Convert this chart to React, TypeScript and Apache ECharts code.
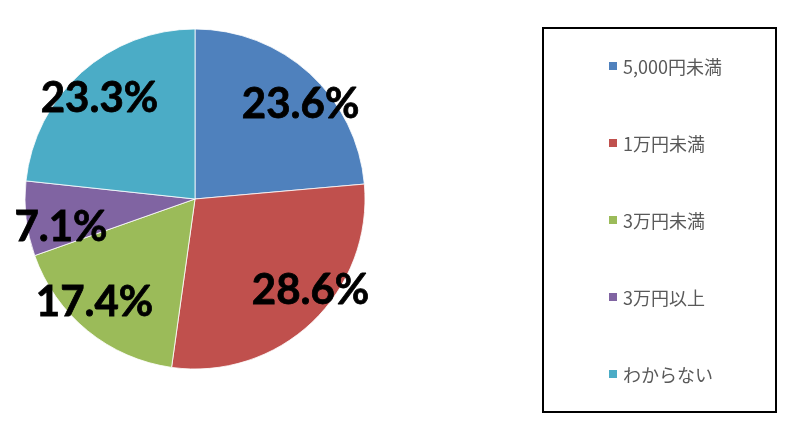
import React, { useEffect, useRef } from "react";
import * as echarts from "echarts";

const categories = ["5,000円未満", "1万円未満", "3万円未満", "3万円以上", "わからない"];
const values = [23.6, 28.6, 17.4, 7.1, 23.3];
const colors = ["#4F81BD", "#C0504D", "#9BBB59", "#8064A2", "#4BACC6"];

// label nudges (best-fit placement of the original)
const labelNudges: [number, number][] = [[9, 8], [17, -15], [-10, -10], [8, 9], [0, 3]];

export default function App() {
  const ref = useRef<HTMLDivElement>(null);
  useEffect(() => {
    if (!ref.current) return;
    const chart = echarts.init(ref.current, null, { renderer: "svg" });
    const data = categories.map((name, i) => ({ name, value: values[i] }));
    const labelData = categories.map((name, i) => ({
      name,
      value: values[i],
      label: { offset: labelNudges[i] },
    }));
    chart.setOption({
      animation: false,
      color: colors,
      legend: {
        orient: "vertical",
        left: 607,
        top: 56,
        padding: 0,
        itemWidth: 10,
        itemHeight: 10,
        itemGap: 57,
        icon: "rect",
        textStyle: {
          color: "#595959",
          fontSize: 18,
          lineHeight: 20,
          fontFamily: "Noto Sans CJK JP",
        },
        data: categories,
      },
      graphic: [
        {
          type: "rect",
          shape: { x: 543, y: 28, width: 233, height: 384 },
          style: { fill: "none", stroke: "#000", lineWidth: 2 },
          silent: true,
        },
      ],
      series: [
        {
          type: "pie",
          center: [195, 199],
          radius: [0, 170],
          startAngle: 90,
          clockwise: true,
          data,
          itemStyle: { borderColor: "#fff", borderWidth: 0.8 },
          label: { show: false },
          labelLine: { show: false },
          emphasis: { disabled: true },
        },
        {
          type: "pie",
          center: [195, 199],
          radius: [112, 168],
          startAngle: 90,
          clockwise: true,
          data: labelData,
          silent: true,
          legendHoverLink: false,
          itemStyle: { color: "transparent", borderWidth: 0 },
          label: {
            show: true,
            position: "inside",
            formatter: (p: any) => `${Number(p.value).toFixed(1)}%`,
            color: "#000",
            fontSize: 42,
            fontWeight: "bold",
            fontFamily: "Lato",
            textBorderColor: "#000",
            textBorderWidth: 0.8,
          },
          labelLine: { show: false },
          emphasis: { disabled: true },
        },
      ],
    });
    return () => chart.dispose();
  }, []);
  return (
    <div
      ref={ref}
      style={{ position: "fixed", left: 0, top: 0, width: 788, height: 425 }}
    />
  );
}
